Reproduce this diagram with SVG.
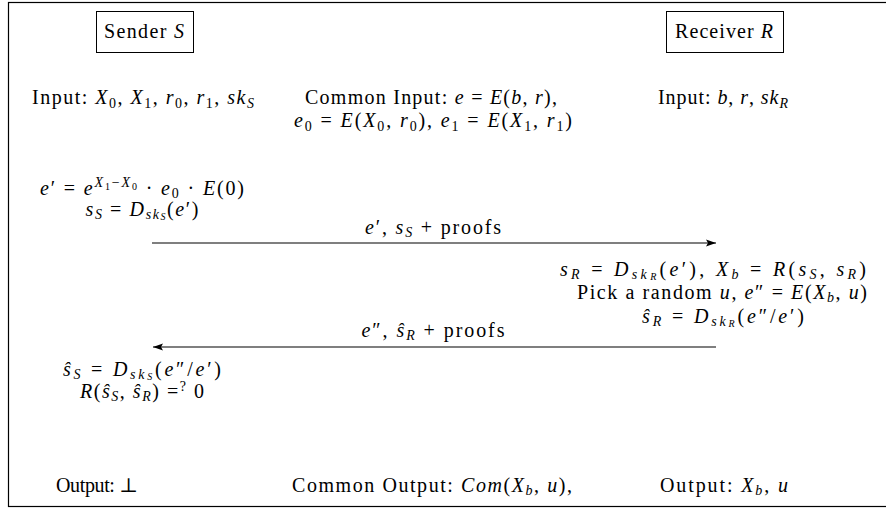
<svg xmlns="http://www.w3.org/2000/svg" width="886" height="508" viewBox="0 0 886 508">
<style>
.t{font-family:'Liberation Serif','Times New Roman',Tinos,'DejaVu Serif',serif;font-size:20px;fill:#000}
.i{font-style:italic}
.s{font-size:14px}
.ss{font-size:10px}
.box{fill:#fff;stroke:#000;stroke-width:1}
.ln{stroke:#000;stroke-width:1.2;fill:none}
</style>
<defs>
<marker id="ah" viewBox="0 0 10 10" refX="10" refY="5" markerWidth="10" markerHeight="10" markerUnits="userSpaceOnUse" orient="auto">
<path d="M0,1.5 L10,5 L0,8.5 L2,5 Z" fill="#000"/>
</marker>
</defs>
<rect x="8.5" y="2.5" width="890" height="504" fill="#fff" stroke="#000" stroke-width="1.2"/>
<g font-family="Liberation Serif, serif">
<g id="sender">
<rect class="box" x="96.5" y="11.5" width="97" height="41"/>
<text class="t" x="144" y="38" text-anchor="middle" textLength="80" lengthAdjust="spacing">Sender <tspan class="i">S</tspan></text>
<text class="t" x="32" y="104" textLength="222" lengthAdjust="spacing">Input: <tspan class="i">X</tspan><tspan class="s" dy="4">0</tspan><tspan dy="-4">, </tspan><tspan class="i">X</tspan><tspan class="s" dy="4">1</tspan><tspan dy="-4">, </tspan><tspan class="i">r</tspan><tspan class="s" dy="4">0</tspan><tspan dy="-4">, </tspan><tspan class="i">r</tspan><tspan class="s" dy="4">1</tspan><tspan dy="-4">, </tspan><tspan class="i">sk</tspan><tspan class="s i" dy="4">S</tspan></text>
</g>

<g id="common">
<text class="t" x="431" y="104" text-anchor="middle" textLength="252" lengthAdjust="spacing">Common Input: <tspan class="i">e</tspan> = <tspan class="i">E</tspan>(<tspan class="i">b</tspan>, <tspan class="i">r</tspan>),</text>
<text class="t" x="433" y="127" text-anchor="middle" textLength="278" lengthAdjust="spacing"><tspan class="i">e</tspan><tspan class="s" dy="4">0</tspan><tspan dy="-4"> = </tspan><tspan class="i">E</tspan>(<tspan class="i">X</tspan><tspan class="s" dy="4">0</tspan><tspan dy="-4">, </tspan><tspan class="i">r</tspan><tspan class="s" dy="4">0</tspan><tspan dy="-4">), </tspan><tspan class="i">e</tspan><tspan class="s" dy="4">1</tspan><tspan dy="-4"> = </tspan><tspan class="i">E</tspan>(<tspan class="i">X</tspan><tspan class="s" dy="4">1</tspan><tspan dy="-4">, </tspan><tspan class="i">r</tspan><tspan class="s" dy="4">1</tspan><tspan dy="-4">)</tspan></text>
</g>

<g id="receiver">
<rect class="box" x="666.5" y="11.5" width="117" height="41"/>
<text class="t" x="724" y="38" text-anchor="middle" textLength="98" lengthAdjust="spacing">Receiver <tspan class="i">R</tspan></text>
<text class="t" x="723" y="104" text-anchor="middle" textLength="130" lengthAdjust="spacing">Input: <tspan class="i">b</tspan>, <tspan class="i">r</tspan>, <tspan class="i">sk</tspan><tspan class="s i" dy="4">R</tspan></text>
</g>

<g id="sender-step1">
<text class="t" x="142" y="195" text-anchor="middle" textLength="204" lengthAdjust="spacing"><tspan class="i">e</tspan>′ = <tspan class="i">e</tspan><tspan class="s i" dy="-8">X</tspan><tspan class="ss" dy="3">1</tspan><tspan class="s" dy="-3">−</tspan><tspan class="s i">X</tspan><tspan class="ss" dy="3">0</tspan><tspan dy="5"> · </tspan><tspan class="i">e</tspan><tspan class="s" dy="3">0</tspan><tspan dy="-3"> · </tspan><tspan class="i">E</tspan>(0)</text>
<text class="t" x="142" y="216" text-anchor="middle" textLength="113" lengthAdjust="spacing"><tspan class="i">s</tspan><tspan class="s i" dy="3">S</tspan><tspan dy="-3"> = </tspan><tspan class="i">D</tspan><tspan class="s i" dy="3">sk</tspan><tspan class="ss i" dy="1">S</tspan><tspan dy="-4">(</tspan><tspan class="i">e</tspan>′)</text>
</g>

<g id="receiver-step">
<text class="t" x="713" y="276" text-anchor="middle" textLength="306" lengthAdjust="spacing"><tspan class="i">s</tspan><tspan class="s i" dy="3">R</tspan><tspan dy="-3"> = </tspan><tspan class="i">D</tspan><tspan class="s i" dy="3">sk</tspan><tspan class="ss i" dy="1">R</tspan><tspan dy="-4">(</tspan><tspan class="i">e</tspan>′), <tspan class="i">X</tspan><tspan class="s i" dy="3">b</tspan><tspan dy="-3"> = </tspan><tspan class="i">R</tspan>(<tspan class="i">s</tspan><tspan class="s i" dy="3">S</tspan><tspan dy="-3">, </tspan><tspan class="i">s</tspan><tspan class="s i" dy="3">R</tspan><tspan dy="-3">)</tspan></text>
<text class="t" x="722" y="299" text-anchor="middle" textLength="290" lengthAdjust="spacing">Pick a random <tspan class="i">u</tspan>, <tspan class="i">e</tspan>″ = <tspan class="i">E</tspan>(<tspan class="i">X</tspan><tspan class="s i" dy="3">b</tspan><tspan dy="-3">, </tspan><tspan class="i">u</tspan>)</text>
<text class="t" x="723" y="323" text-anchor="middle" textLength="162" lengthAdjust="spacing"><tspan class="i">ŝ</tspan><tspan class="s i" dy="3">R</tspan><tspan dy="-3"> = </tspan><tspan class="i">D</tspan><tspan class="s i" dy="3">sk</tspan><tspan class="ss i" dy="1">R</tspan><tspan dy="-4">(</tspan><tspan class="i">e</tspan>″/<tspan class="i">e</tspan>′)</text>
</g>

<g id="sender-step2">
<text class="t" x="142" y="376" text-anchor="middle" textLength="158" lengthAdjust="spacing"><tspan class="i">ŝ</tspan><tspan class="s i" dy="3">S</tspan><tspan dy="-3"> = </tspan><tspan class="i">D</tspan><tspan class="s i" dy="3">sk</tspan><tspan class="ss i" dy="1">S</tspan><tspan dy="-4">(</tspan><tspan class="i">e</tspan>″/<tspan class="i">e</tspan>′)</text>
<text class="t" x="142" y="398" text-anchor="middle" textLength="124" lengthAdjust="spacing"><tspan class="i">R</tspan>(<tspan class="i">ŝ</tspan><tspan class="s i" dy="3">S</tspan><tspan dy="-3">, </tspan><tspan class="i">ŝ</tspan><tspan class="s i" dy="3">R</tspan><tspan dy="-3">) =</tspan><tspan class="s" dy="-7">?</tspan><tspan dy="7"> 0</tspan></text>
</g>

<g id="outputs">
<text class="t" x="97" y="492" text-anchor="middle" textLength="82" lengthAdjust="spacing">Output: ⊥</text>
<text class="t" x="432" y="492" text-anchor="middle" textLength="280" lengthAdjust="spacing">Common Output: <tspan class="i">Com</tspan>(<tspan class="i">X</tspan><tspan class="s i" dy="3">b</tspan><tspan dy="-3">, </tspan><tspan class="i">u</tspan>),</text>
<text class="t" x="724" y="492" text-anchor="middle" textLength="128" lengthAdjust="spacing">Output: <tspan class="i">X</tspan><tspan class="s i" dy="3">b</tspan><tspan dy="-3">, </tspan><tspan class="i">u</tspan></text>
</g>

<g id="connectors">
<line class="ln" x1="152" y1="243" x2="716" y2="243" marker-end="url(#ah)"/>
<text class="t" x="433" y="234" text-anchor="middle" textLength="136" lengthAdjust="spacing"><tspan class="i">e</tspan>′, <tspan class="i">s</tspan><tspan class="s i" dy="3">S</tspan><tspan dy="-3"> + proofs</tspan></text>
<line class="ln" x1="716" y1="347" x2="153" y2="347" marker-end="url(#ah)"/>
<text class="t" x="433" y="337" text-anchor="middle" textLength="143" lengthAdjust="spacing"><tspan class="i">e</tspan>″, <tspan class="i">ŝ</tspan><tspan class="s i" dy="3">R</tspan><tspan dy="-3"> + proofs</tspan></text>
</g>
</g>
</svg>
